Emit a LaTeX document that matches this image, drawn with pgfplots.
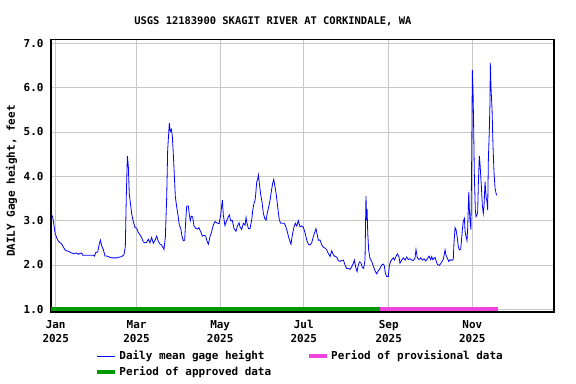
\documentclass[border=0pt]{standalone}
\usepackage{fontspec}
\setmainfont{DejaVu Sans Mono}
\usepackage{pgfplots}
\pgfplotsset{compat=1.18}
\definecolor{gageblue}{RGB}{0,0,255}
\definecolor{approved}{RGB}{0,153,0}
\definecolor{prov}{RGB}{238,68,221}
\definecolor{gridgray}{RGB}{200,200,200}
\newcommand\lblfont{\fontsize{11}{14}\selectfont\bfseries}
\newcommand\ttlfont{\fontsize{10.5}{12}\selectfont\bfseries}
\pgfplotsset{shortleg/.style={legend image code/.code={\draw[##1] (0bp,0bp) -- (18bp,0bp);}}}
\begin{document}
\begin{tikzpicture}
\useasboundingbox (0bp,0bp) rectangle (576bp,384bp);
\begin{axis}[
  at={(51bp,72bp)}, anchor=south west,
  width=503bp, height=272.7bp, scale only axis,
  xmin=-3.43, xmax=363.6, ymin=0.939, ymax=7.09,
  axis line style={black, line width=1.2bp},
  xtick={0,59,120,181,243,304},
  xticklabels={Jan\\2025,Mar\\2025,May\\2025,Jul\\2025,Sep\\2025,Nov\\2025},
  ytick={1,2,3,4,5,6,7},
  yticklabels={1.0,2.0,3.0,4.0,5.0,6.0,7.0},
  major tick length=0pt,
  grid=major, grid style={gridgray, line width=0.9bp},
  tick label style={font=\lblfont},
  xticklabel style={align=center, yshift=-5bp},
  yticklabel style={xshift=-4bp},
  title={USGS 12183900 SKAGIT RIVER AT CORKINDALE, WA},
  title style={at={(axis description cs:0.441,1.045)}, anchor=center, font=\ttlfont},
  ylabel={DAILY Gage height, feet},
  ylabel style={at={(axis description cs:-0.0785,0.48)}, anchor=center, font=\lblfont},
  legend style={draw=none, fill=none, at={(axis description cs:0.088,-0.135)}, anchor=north west,
    font=\lblfont, inner sep=0pt, row sep=1bp,
    /tikz/every even column/.append style={column sep=34bp}},
  legend columns=2, legend cell align=left,
]
\addplot[gageblue, line width=0.8bp, shortleg] coordinates {
(-2.9,3.13) (-2.2,3.08) (-1.2,2.88) (-0.5,2.73) (0.7,2.61) (1.9,2.54) (3.2,2.50) (4.4,2.47) (5.5,2.41) (6.8,2.34)
(8,2.32) (9.2,2.31) (10.4,2.29) (11.6,2.27) (12.9,2.26) (14.1,2.26) (15.3,2.27) (16.5,2.24) (17.7,2.26) (19,2.27)
(19.7,2.22) (21,2.22) (22.2,2.22) (23.4,2.22) (24.6,2.22) (25.8,2.22) (27.5,2.22) (28.3,2.20) (29.2,2.28) (30.6,2.29)
(31.8,2.47) (32.6,2.56) (33.6,2.43) (34.8,2.34) (36,2.20) (37.2,2.20) (38.4,2.19) (39.6,2.17) (40.9,2.16) (42,2.16)
(43.3,2.16) (44.5,2.16) (45.7,2.17) (47,2.18) (48.2,2.19) (49.8,2.23) (50.8,2.41)
(51.5,3.53) (52.3,4.46) (53,4.22) (53.7,3.6) (54.7,3.35) (55.4,3.16) (56.6,2.98) (57.9,2.84) (59.1,2.83) (60.3,2.73)
(61.5,2.68) (62.7,2.62) (63.9,2.52) (65.2,2.50) (66.4,2.51) (67.6,2.58) (68.8,2.50) (70,2.62) (71.2,2.49) (72.5,2.56)
(73.7,2.65) (74.9,2.53) (76.1,2.47) (77.3,2.45) (79,2.35) (80,2.62) (81,3.54) (81.7,4.59) (82.9,5.20) (83.6,5.01)
(84.4,5.06) (85.1,4.9) (85.8,4.52) (86.6,3.99) (87.3,3.54) (88.3,3.31) (89.2,3.13) (90.2,2.90) (91.2,2.83) (92.2,2.64)
(93.1,2.55) (94.1,2.56) (94.9,3.01) (95.6,3.33) (96.8,3.33) (97.5,3.13) (98.2,3.0) (99,3.10) (99.9,3.09) (100.9,2.88)
(102.1,2.83) (103.3,2.81) (104.5,2.84) (105.8,2.75) (107,2.65) (108.2,2.67) (109.4,2.65) (110.6,2.52) (111.4,2.47) (112.6,2.64)
(113.8,2.75) (115,2.90) (116.2,2.98) (117.5,2.95) (119.2,2.93) (120.4,3.13) (121.1,3.33) (121.6,3.46) (122.3,3.13) (123.5,2.89)
(124.8,3.0) (126,3.09) (126.7,3.13) (127.7,3.0) (128.9,3.0) (130.1,2.82) (131.6,2.76) (132.5,2.87) (133.8,2.95)
(134.5,2.86) (135.7,2.80) (136.9,2.94) (138.2,2.90) (138.9,3.07) (139.4,2.97) (140.6,2.82) (141.8,2.82) (143,3.01) (143.8,3.24)
(144.7,3.39) (145.4,3.45) (145.9,3.58) (146.7,3.88) (147.3,3.92) (147.9,4.03) (148.6,3.84) (149.6,3.58) (150.5,3.43) (151.5,3.17)
(152.5,3.05) (153.5,3.01) (154.4,3.17) (155.4,3.31) (156.4,3.46) (157.3,3.65) (158.3,3.84) (159.1,3.93) (159.8,3.80) (160.8,3.62)
(161.7,3.39) (162.4,3.20) (163.2,3.01) (164.2,2.94) (165.6,2.94) (166.8,2.94) (167.8,2.88) (169,2.75) (170.2,2.60) (171.7,2.47)
(172.7,2.68) (173.9,2.86) (174.9,2.94) (175.9,2.88) (177,3.0) (178.3,2.86) (179.5,2.88) (180.7,2.85) (181.9,2.73) (183.2,2.56)
(184.3,2.47) (185.6,2.45) (186.8,2.50) (188,2.64) (189.2,2.75) (189.9,2.82) (190.7,2.70) (191.6,2.56) (192.9,2.56) (194.1,2.45)
(195.3,2.40) (196.5,2.38) (197.8,2.34) (198.9,2.26) (200.2,2.19) (201.4,2.32) (202.6,2.23) (203.8,2.19)
(205,2.18) (206.2,2.10) (207.5,2.08) (208.7,2.10) (209.9,2.11) (211.1,2.0) (212.3,1.92) (213.5,1.92) (214.8,1.90) (216,1.96)
(217.2,2.04) (217.9,2.11) (218.9,1.95) (219.9,1.85) (220.8,2.0) (221.8,2.07) (222.8,2.04) (223.7,1.95) (224.7,1.92) (225.7,2.11)
(226.4,3.56) (226.9,3.01) (227.2,3.26) (227.7,2.71) (228.4,2.32) (229.3,2.15) (230.6,2.08) (231.8,1.97) (233,1.87) (234.2,1.80)
(235.4,1.87) (236.6,1.92) (237.9,2.0) (239.1,2.02) (239.8,1.98) (240.5,1.82) (241.5,1.74) (242.7,1.74) (243.4,1.97) (244.2,2.07)
(245.2,2.12) (246.4,2.16) (247.1,2.11) (248.1,2.18) (249.3,2.25) (250.5,2.18) (251.2,2.04) (252.5,2.11) (253.6,2.16) (254.9,2.11)
(256.1,2.18) (257.3,2.12) (258.5,2.14) (259.8,2.11) (261,2.10) (262.2,2.16) (262.9,2.35) (263.9,2.16) (265.1,2.12) (266.3,2.16)
(267.5,2.11) (268.8,2.14) (270,2.09) (271.2,2.14) (272.4,2.20) (273.6,2.12)
(274.4,2.19) (275.1,2.12) (276,2.15) (276.8,2.17) (277.5,2.10) (278.5,2.01) (279.9,1.99) (280.9,2.03) (281.9,2.08) (282.8,2.13)
(283.6,2.25) (284.1,2.34) (284.8,2.22) (285.8,2.15) (286.8,2.08) (287.7,2.12) (289,2.10) (290.1,2.13) (290.6,2.49) (291.4,2.84)
(292.1,2.80) (293.1,2.60) (293.8,2.41) (294.5,2.34) (295.5,2.36) (296,2.52) (296.7,2.79) (297.4,2.98) (298.2,3.05) (298.7,2.76)
(299.4,2.64) (300.1,2.55) (300.6,2.82) (301.4,3.65) (301.8,3.28) (302.3,3.0) (303,2.8) (303.6,4.63) (304,6.40) (304.5,5.95)
(305,5.04) (305.5,3.99) (306.2,3.24) (306.7,3.09) (307.4,3.13) (307.9,3.20) (308.4,3.84) (309.1,4.46) (309.6,4.29) (310.1,4.03)
(310.6,3.77) (311.3,3.35) (312,3.16) (312.5,3.31) (313.3,3.88) (314,3.54) (314.7,3.43) (315.2,3.24) (315.7,4.37) (316.4,5.04)
(316.9,5.68) (317.1,6.56) (317.7,5.95) (318.4,5.50) (319.1,4.67) (319.8,4.10) (320.6,3.73) (321.3,3.62) (321.8,3.57)
};
\addlegendentry{Daily mean gage height}
\addplot[prov, line width=4bp, shortleg] coordinates {(236.6,1.0) (322.5,1.0)};
\addlegendentry{Period of provisional data}
\addplot[approved, line width=4bp, shortleg] coordinates {(-3.43,1.0) (236.6,1.0)};
\addlegendentry{Period of approved data}
\end{axis}
\end{tikzpicture}
\end{document}
